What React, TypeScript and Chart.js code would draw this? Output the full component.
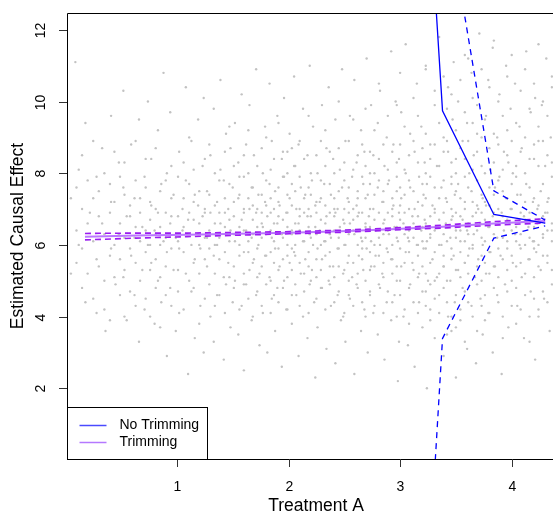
import React, { useEffect, useRef } from 'react';
import { Chart, registerables } from 'chart.js';

Chart.register(...registerables);

// Evaluation grid of treatment values
const gridA = [0.176, 0.634, 1.09, 1.55, 2.01, 2.47, 2.92, 3.38, 3.84, 4.3];
// No trimming: estimate and confidence band (values far off-scale on the left)
const noTrimEst = [210, 160, 120, 85, 62, 45, 32.5, 9.74, 6.85, 6.61];
const noTrimUpper = [420, 330, 250, 180, 130, 100, 85.7, 16.1, 7.51, 6.69];
const noTrimLower = [-150, -120, -90, -60, -45, -30, -20.7, 3.39, 6.19, 6.53];
// Trimming: estimate and confidence band
const trimEst = [6.23, 6.26, 6.28, 6.31, 6.34, 6.38, 6.44, 6.51, 6.6, 6.67];
const trimUpper = [6.32, 6.33, 6.33, 6.35, 6.37, 6.41, 6.47, 6.55, 6.65, 6.73];
const trimLower = [6.14, 6.19, 6.23, 6.27, 6.31, 6.35, 6.41, 6.47, 6.55, 6.61];

const xTicks = [1, 2, 3, 4];
const yTicks = [2, 4, 6, 8, 10, 12];
const xTitle = 'Treatment A';
const yTitle = 'Estimated Causal Effect';
const legendLabels = ['No Trimming', 'Trimming'];

// Observed (treatment, effect) sample cloud: scattered points
const cloud: [number, number][] = [
  [0.05,7.3],[0.05,5.2],[0.09,11.1],[0.12,6.0],[0.12,8.1],[0.18,4.4],[0.18,9.4],[0.22,6.9],
  [0.28,5.6],[0.28,7.9],[0.28,4.1],[0.33,6.6],[0.33,8.7],[0.36,3.6],[0.41,5.9],[0.41,7.2],[0.41,9.6],[0.45,4.9],[0.48,6.3],[0.48,8.3],
  [0.52,5.1],[0.52,7.6],[0.52,10.3],[0.55,3.9],[0.55,6.8],[0.59,5.7],[0.59,8.8],[0.62,4.6],[0.62,6.2],[0.62,7.3],[0.66,9.5],[0.66,3.3],[0.69,6.5],[0.69,5.3],[0.71,7.9],[0.71,4.2],[0.74,10.0],[0.74,6.0],
  [0.77,5.5],[0.77,7.1],[0.77,8.4],[0.8,3.8],[0.8,6.4],[0.83,9.2],[0.83,5.0],[0.83,6.9],[0.86,4.4],[0.86,7.7],[0.88,10.8],[0.88,6.1],[0.91,5.8],[0.91,8.0],[0.91,2.9],[0.94,6.6],[0.94,4.8],[0.94,9.7],[0.97,7.4],[0.97,5.3],[0.99,6.2],[0.99,3.6],
  [1.02,8.6],[1.02,5.9],[1.02,4.1],[1.05,7.0],[1.05,6.4],[1.08,10.4],[1.08,5.2],[1.08,7.8],[1.1,2.4],[1.1,6.7],[1.13,4.7],[1.13,8.9],[1.13,6.0],[1.16,7.4],[1.16,3.4],[1.16,5.6],[1.19,9.5],[1.19,6.3],[1.19,7.1],[1.21,4.3],[1.21,5.9],[1.23,8.2],[1.23,6.8],[1.24,3.0],[1.24,10.1],
  [1.27,5.4],[1.27,7.5],[1.27,6.2],[1.3,4.0],[1.3,8.5],[1.3,6.9],[1.33,9.8],[1.33,5.7],[1.33,3.3],[1.36,7.2],[1.36,6.0],[1.36,4.6],[1.39,8.1],[1.39,6.6],[1.39,10.6],[1.42,5.1],[1.42,7.8],[1.42,2.8],[1.44,6.3],[1.44,9.1],[1.44,4.9],[1.46,7.0],[1.46,5.5],[1.48,8.7],[1.48,3.7],[1.48,6.4],[1.5,7.6],[1.5,4.4],
  [1.52,6.1],[1.52,9.4],[1.52,5.0],[1.55,7.3],[1.55,3.5],[1.55,8.3],[1.58,6.7],[1.58,4.3],[1.58,10.2],[1.6,5.8],[1.6,7.9],[1.6,2.5],[1.62,6.4],[1.62,8.8],[1.62,4.9],[1.65,7.0],[1.65,5.3],[1.65,9.9],[1.67,6.2],[1.67,3.9],[1.67,7.6],[1.69,5.6],[1.69,8.5],[1.71,4.6],[1.71,6.9],[1.71,10.9],[1.73,6.0],[1.73,7.4],[1.74,3.2],[1.74,5.2],
  [1.77,8.0],[1.77,6.5],[1.77,4.1],[1.79,9.3],[1.79,5.7],[1.79,7.2],[1.81,3.0],[1.81,6.8],[1.83,10.5],[1.83,5.1],[1.83,7.7],[1.85,6.2],[1.85,4.5],[1.85,8.9],[1.88,5.9],[1.88,7.5],[1.88,3.6],[1.9,6.6],[1.9,9.6],[1.9,4.8],[1.92,7.1],[1.92,5.4],[1.94,8.4],[1.94,6.3],[1.94,2.6],[1.96,7.9],[1.96,5.0],[1.96,10.1],[1.98,6.9],[1.98,4.2],[1.99,6.0],[1.99,8.6],
  [2.01,5.5],[2.01,7.3],[2.01,9.1],[2.03,3.8],[2.03,6.4],[2.05,8.2],[2.05,5.8],[2.05,10.7],[2.07,4.6],[2.07,7.0],[2.09,6.6],[2.09,2.9],[2.09,8.8],[2.11,5.2],[2.11,7.6],[2.13,6.1],[2.13,9.8],[2.13,4.0],[2.15,7.4],[2.15,5.6],[2.17,3.4],[2.17,6.8],[2.17,8.5],[2.19,6.3],[2.19,4.9],[2.19,11.0],[2.21,7.8],[2.21,5.3],[2.22,6.0],[2.22,9.3],[2.23,4.4],[2.24,7.1],[2.24,2.3],[2.24,6.5],
  [2.26,5.9],[2.26,8.0],[2.26,3.7],[2.28,7.2],[2.28,6.4],[2.3,9.9],[2.3,4.8],[2.3,5.6],[2.32,7.7],[2.32,6.1],[2.34,3.1],[2.34,8.7],[2.34,6.8],[2.36,5.0],[2.36,10.4],[2.38,7.4],[2.38,4.3],[2.38,6.2],[2.4,8.4],[2.4,5.4],[2.42,6.9],[2.42,2.7],[2.42,9.5],[2.44,7.0],[2.44,4.6],[2.44,5.9],[2.46,8.1],[2.46,6.5],[2.47,3.9],[2.48,7.6],[2.48,10.9],[2.49,5.2],[2.49,6.7],[2.49,4.0],
  [2.51,8.9],[2.51,6.0],[2.51,3.3],[2.53,7.3],[2.53,5.5],[2.55,9.6],[2.55,6.6],[2.55,4.5],[2.57,7.9],[2.57,5.1],[2.59,6.3],[2.59,2.4],[2.59,10.6],[2.61,7.1],[2.61,4.9],[2.61,8.3],[2.63,5.7],[2.63,6.9],[2.65,3.6],[2.65,9.2],[2.65,6.2],[2.67,7.7],[2.67,5.3],[2.68,4.2],[2.68,8.6],[2.69,6.5],[2.7,11.2],[2.7,5.9],[2.71,7.4],[2.71,3.0],[2.72,6.8],[2.73,4.7],[2.73,8.0],[2.74,6.1],[2.74,9.9],[2.74,5.4],
  [2.76,7.0],[2.76,4.1],[2.76,8.5],[2.78,6.4],[2.78,5.7],[2.8,9.4],[2.8,3.5],[2.8,7.6],[2.82,6.0],[2.82,10.3],[2.82,4.8],[2.84,7.2],[2.84,5.2],[2.86,8.2],[2.86,6.7],[2.86,2.8],[2.88,5.9],[2.88,9.0],[2.88,4.4],[2.9,7.8],[2.9,6.3],[2.92,3.9],[2.92,11.4],[2.92,5.6],[2.94,7.1],[2.94,8.8],[2.95,6.5],[2.95,4.6],[2.96,10.0],[2.97,5.0],[2.97,7.5],[2.98,6.1],[2.98,2.2],[2.99,8.4],[2.99,6.9],[2.99,3.3],
  [3.01,5.4],[3.01,7.3],[3.01,9.7],[3.03,6.6],[3.03,4.0],[3.05,8.0],[3.05,5.8],[3.05,11.6],[3.07,6.2],[3.07,3.2],[3.09,7.6],[3.09,4.9],[3.09,9.1],[3.11,6.8],[3.11,5.5],[3.13,8.6],[3.13,2.6],[3.13,7.0],[3.15,6.0],[3.15,10.5],[3.17,4.4],[3.17,7.9],[3.17,5.2],[3.19,6.4],[3.19,9.3],[3.2,3.7],[3.21,7.4],[3.21,5.9],[3.22,8.3],[3.22,6.7],[3.23,4.7],[3.23,10.9],[3.24,6.1],[3.24,7.7],[3.24,2.0],[3.25,5.0],
  [3.27,8.8],[3.27,6.3],[3.27,4.2],[3.29,7.1],[3.29,5.6],[3.31,9.9],[3.31,3.4],[3.31,6.9],[3.33,5.1],[3.33,8.2],[3.35,6.5],[3.35,11.8],[3.35,4.6],[3.37,7.6],[3.37,6.0],[3.39,2.9],[3.39,9.0],[3.39,5.4],[3.41,7.3],[3.41,6.6],[3.43,4.0],[3.43,8.6],[3.43,10.4],[3.45,6.2],[3.45,5.0],[3.46,7.9],[3.46,3.6],[3.47,6.8],[3.47,9.5],[3.48,5.7],[3.48,11.1],[3.49,7.4],[3.49,4.4],[3.5,6.4],[3.5,8.4],[3.5,2.3],
  [3.52,5.3],[3.52,7.7],[3.52,10.0],[3.54,6.1],[3.54,3.9],[3.56,8.9],[3.56,6.7],[3.56,4.8],[3.58,7.2],[3.58,11.3],[3.58,5.5],[3.6,6.4],[3.6,9.4],[3.6,3.1],[3.62,8.0],[3.62,5.9],[3.64,7.5],[3.64,4.3],[3.64,10.8],[3.66,6.3],[3.66,8.5],[3.67,5.1],[3.68,6.9],[3.68,2.7],[3.69,9.1],[3.7,7.0],[3.7,5.6],[3.71,11.9],[3.72,6.6],[3.72,4.5],[3.73,8.2],[3.74,7.3],[3.74,3.5],[3.74,6.0],
  [3.77,9.6],[3.77,5.2],[3.77,7.1],[3.79,6.5],[3.79,10.6],[3.79,4.1],[3.81,8.1],[3.81,5.8],[3.83,6.8],[3.83,3.0],[3.83,11.5],[3.85,7.6],[3.85,5.4],[3.87,9.0],[3.87,6.2],[3.87,4.6],[3.89,7.9],[3.89,10.2],[3.9,5.7],[3.91,6.9],[3.91,2.4],[3.93,8.6],[3.93,6.4],[3.94,4.9],[3.95,7.3],[3.95,11.0],[3.96,5.9],[3.97,8.3],[3.97,3.7],[3.98,6.6],[3.99,9.8],[3.99,7.0],
  [4.01,5.5],[4.01,8.0],[4.03,6.3],[4.03,10.5],[4.05,4.3],[4.05,7.4],[4.07,9.3],[4.07,6.0],[4.09,5.1],[4.09,8.7],[4.11,6.8],[4.11,3.4],[4.13,7.7],[4.13,11.4],[4.15,5.6],[4.15,6.5],[4.17,9.7],[4.17,4.7],[4.19,7.2],[4.19,6.1],[4.2,8.4],[4.21,2.8],[4.21,10.1],[4.22,5.8],[4.23,7.0],[4.23,6.6],[4.24,4.0],[4.24,8.9],
  [4.26,5.3],[4.26,7.5],[4.27,9.9],[4.28,6.2],[4.29,4.5],[4.3,8.2],[4.3,6.9],[4.31,11.2],[4.32,5.7],[4.33,7.3],[4.34,3.6],[4.35,9.0],[4.36,6.4],[4.36,10.7],
];

// Observed sample cloud, dense columns: first entry is treatment A, the rest are effects
const cloudColumns: number[][] = [
  [0.1, 6.4,5.5,7.6],
  [0.15, 5.9,7.0,4.8,8.5],
  [0.2, 6.6,5.2,7.8],
  [0.25, 6.1,4.5,7.3,8.9],
  [0.3, 5.4,6.8,7.5],
  [0.35, 6.3,5.0,8.0,4.2],
  [0.4, 6.9,5.7,7.7,3.9],
  [0.44, 6.0,7.2,5.1,8.6],
  [0.49, 5.6,6.6,7.9,4.6],
  [0.53, 6.2,7.4,5.3,8.3,4.0],
  [0.58, 6.8,5.9,7.1,4.7],
  [0.63, 5.5,6.5,7.8,8.9,4.3],
  [0.67, 6.1,7.3,5.0,6.9],
  [0.72, 5.8,6.4,7.6,4.5,8.4],
  [0.76, 6.7,5.3,7.2,4.0,6.0],
  [0.81, 5.6,7.0,6.3,8.7,4.8],
  [0.85, 6.5,5.1,7.5,6.0,3.7],
  [0.9, 6.2,7.8,5.4,4.6,6.9],
  [0.95, 5.9,6.8,7.3,4.3,8.2],
  [1.01, 6.8,5.3,7.9,4.7,6.1],
  [1.06, 5.8,7.3,6.5,8.3,4.2],
  [1.11, 6.3,5.0,7.7,6.9,9.0],
  [1.15, 5.5,6.7,7.2,4.8,8.1],
  [1.2, 6.0,7.5,5.2,6.6,3.8],
  [1.25, 6.9,5.6,8.4,4.5,7.0,6.2],
  [1.29, 5.9,7.4,6.4,4.9,8.8],
  [1.34, 6.6,5.2,7.1,8.0,6.0,4.3],
  [1.38, 5.6,6.9,7.8,4.6,6.2],
  [1.43, 7.3,5.8,6.5,8.6,4.1,6.9],
  [1.47, 6.1,7.7,5.1,6.7,9.3],
  [1.51, 5.4,6.8,7.2,4.8,8.2,6.3],
  [1.56, 6.5,5.7,7.9,4.2,6.0,7.4],
  [1.6, 7.0,5.2,6.4,8.5,4.9,6.9],
  [1.64, 5.8,7.3,6.1,4.5,8.0,9.2],
  [1.68, 6.7,5.5,7.6,4.0,6.3,7.1],
  [1.72, 5.1,6.5,8.2,7.0,5.9,4.7],
  [1.76, 6.9,5.4,7.4,6.2,8.7,4.3,6.6],
  [1.8, 5.7,7.8,6.3,4.9,7.1,9.0],
  [1.84, 6.4,5.0,7.3,8.1,5.8,6.9,4.1],
  [1.87, 7.0,5.5,6.6,8.4,4.6,6.1],
  [1.91, 5.3,7.6,6.8,4.4,7.2,5.9,9.4],
  [1.95, 6.2,7.9,5.6,4.8,6.7,8.6],
  [1.99, 5.1,6.5,7.4,4.2,8.0,6.9,5.7],
  [2.03, 7.1,5.9,6.3,8.7,4.6,7.7,5.3],
  [2.06, 6.6,4.9,7.5,5.7,8.2,6.0],
  [2.1, 5.5,7.0,6.4,4.3,8.9,6.8,7.9],
  [2.14, 6.9,5.2,7.3,6.1,4.7,8.4],
  [2.18, 5.8,7.6,6.5,4.1,7.0,9.6,5.4],
  [2.2, 6.2,8.0,5.0,6.8,7.4],
  [2.25, 7.2,5.6,6.3,4.5,8.5,6.9,5.1],
  [2.29, 6.0,7.8,5.3,6.7,4.8,8.9,7.3],
  [2.33, 5.7,6.6,7.1,4.2,8.2,6.1,9.2],
  [2.37, 6.9,5.4,7.7,6.3,4.9,8.6,5.8],
  [2.41, 6.4,7.3,5.1,8.0,4.4,6.8,7.0],
  [2.45, 5.9,7.5,6.2,4.7,8.7,5.4,10.0],
  [2.5, 7.0,6.0,5.3,8.3,4.1,6.6,7.8],
  [2.54, 6.3,5.7,7.2,4.6,8.9,6.9,5.0,7.6],
  [2.58, 5.5,7.0,6.4,8.1,4.3,6.7,9.5],
  [2.62, 6.8,5.2,7.5,6.0,4.8,8.5,7.3],
  [2.66, 6.1,7.9,5.6,4.4,6.9,8.8,5.9],
  [2.69, 7.3,6.2,5.0,8.2,4.0,6.6,9.8],
  [2.73, 5.8,7.0,6.5,4.6,8.6,7.7,5.3],
  [2.77, 6.7,5.4,7.4,6.0,9.2,4.3,8.0],
  [2.81, 6.2,7.8,5.7,4.9,6.9,8.4,10.5],
  [2.85, 5.5,6.6,7.2,4.1,8.8,6.3,5.1,7.5],
  [2.89, 6.9,5.8,7.7,4.7,8.1,6.4,9.6],
  [2.93, 6.0,7.3,5.2,8.6,4.4,6.8,7.0,5.6],
  [2.97, 6.5,7.9,5.4,4.0,8.3,9.9,6.2],
  [3.0, 7.1,5.9,6.7,4.6,8.8,5.0,7.6,10.8],
  [3.04, 6.3,7.4,5.5,8.1,4.2,6.9,9.3],
  [3.08, 5.8,7.0,6.4,4.8,8.5,6.1,7.8,3.8],
  [3.12, 6.6,5.3,7.5,8.9,4.4,6.2,10.1],
  [3.16, 7.2,5.7,6.8,4.1,8.3,6.0,9.6,5.1],
  [3.2, 6.1,7.7,5.4,8.7,4.7,6.5,7.1],
  [3.23, 5.9,7.3,6.6,4.3,9.1,8.0,5.2,11.0],
  [3.27, 6.8,5.5,7.9,4.9,8.4,6.2,3.9],
  [3.31, 6.4,7.6,5.8,4.5,8.8,7.0,10.3,5.0],
  [3.35, 7.3,6.0,5.2,8.2,4.1,9.4,6.7],
  [3.39, 5.7,6.9,7.8,4.8,8.6,6.3,10.7,5.4],
  [3.42, 6.5,7.2,5.0,8.9,4.4,6.1,9.8,3.5],
  [3.46, 7.0,5.6,6.7,8.3,4.0,7.7,10.2,5.9],
  [3.5, 6.2,7.5,5.3,9.2,4.6,6.9,8.0,3.7],
  [3.54, 6.8,5.8,7.3,4.2,8.7,10.6,6.4,5.1],
  [3.58, 5.5,7.0,6.1,8.4,4.7,9.7,7.9,3.3],
  [3.61, 6.6,7.6,5.2,4.4,8.9,6.3,11.2,5.7],
  [3.65, 7.2,5.9,6.8,9.4,4.0,8.1,6.0,10.1],
  [3.69, 6.4,5.4,7.8,4.9,8.6,7.1,3.6,9.9],
  [3.73, 5.7,6.9,7.4,4.3,9.0,6.2,10.9,5.0],
  [3.76, 6.7,8.0,5.5,7.2,4.6,9.5,6.1,3.9],
  [3.8, 7.1,5.8,6.5,8.7,4.1,10.4,7.6,5.2],
  [3.84, 6.3,7.4,5.4,9.1,4.8,6.9,8.3,11.7],
  [3.88, 5.9,7.0,6.6,4.4,8.8,10.0,5.1,7.8],
  [3.92, 6.8,5.6,7.5,9.6,4.0,6.2,8.1,3.4],
  [3.96, 6.1,7.3,5.3,8.5,4.7,10.7,6.7,9.2],
  [4.0, 7.0,5.7,6.4,8.9,4.3,7.7,11.3,5.0],
  [4.04, 6.5,7.9,5.4,4.8,9.4,6.1,8.2,3.8],
  [4.08, 5.9,6.9,7.4,4.2,8.6,10.3,6.3,5.5],
  [4.12, 6.7,5.2,7.2,9.0,4.6,8.0,6.0,10.9],
  [4.16, 6.2,7.6,5.6,4.0,8.4,6.9,9.8,3.3],
  [4.2, 7.3,5.9,6.5,8.8,4.5,10.5,6.1,5.1],
  [4.24, 6.0,7.1,5.4,9.3,4.2,8.2,6.7,11.6],
  [4.28, 6.8,5.7,7.7,4.7,8.9,6.3,10.0],
  [4.32, 5.5,7.2,6.4,8.5,4.4,9.6,6.9],
  [4.36, 6.6,7.9,5.3,4.9,8.3,10.4,6.1],
];

const FONT = '"Liberation Sans", Arial, Helvetica, sans-serif';
const BLUE = '#0000ff';
const PURPLE_SOLID = '#bb77ff';
const PURPLE_DASH = '#9a1cf0';

const toXY = (ys: number[]) => gridA.map((a, i) => ({ x: a, y: ys[i] }));

const rAxesPlugin = {
  id: 'rAxes',
  afterDraw(chart: any) {
    const { ctx, chartArea: ca, scales } = chart;
    const xs = scales.x;
    const ys = scales.y;
    ctx.save();
    ctx.strokeStyle = '#000';
    ctx.lineWidth = 1;
    ctx.beginPath();
    ctx.moveTo(ca.right + 2, ca.top + 0.5);
    ctx.lineTo(ca.left + 0.5, ca.top + 0.5);
    ctx.lineTo(ca.left + 0.5, ca.bottom + 0.5);
    ctx.lineTo(ca.right + 2, ca.bottom + 0.5);
    ctx.stroke();
    ctx.strokeStyle = '#333';
    ctx.fillStyle = '#000';
    ctx.font = `14px ${FONT}`;
    ctx.textAlign = 'center';
    ctx.textBaseline = 'middle';
    xTicks.forEach((t) => {
      const px = Math.round(xs.getPixelForValue(t)) + 0.5;
      ctx.beginPath();
      ctx.moveTo(px, ca.bottom);
      ctx.lineTo(px, ca.bottom + 8);
      ctx.stroke();
      ctx.fillText(String(t), px, ca.bottom + 28);
    });
    yTicks.forEach((t) => {
      const py = Math.round(ys.getPixelForValue(t)) + 0.5;
      ctx.beginPath();
      ctx.moveTo(ca.left, py);
      ctx.lineTo(ca.left - 8, py);
      ctx.stroke();
      ctx.save();
      ctx.translate(ca.left - 26, py);
      ctx.rotate(-Math.PI / 2);
      ctx.fillText(String(t), 0, 0);
      ctx.restore();
    });
    ctx.font = `17.5px ${FONT}`;
    ctx.fillText(xTitle, 316, ca.bottom + 47);
    ctx.save();
    ctx.translate(18, (ca.top + ca.bottom) / 2);
    ctx.rotate(-Math.PI / 2);
    ctx.fillText(yTitle, 0, 0);
    ctx.restore();
    const lx = ca.left + 0.5;
    const lw = 140;
    const lh = 52;
    const ly = ca.bottom - lh + 0.5;
    ctx.fillStyle = '#fff';
    ctx.fillRect(lx, ly, lw, lh);
    ctx.strokeStyle = '#000';
    ctx.strokeRect(lx, ly, lw, lh);
    const cols = ['#4a4aff', '#b478ff'];
    ctx.font = `14px ${FONT}`;
    ctx.textAlign = 'left';
    legendLabels.forEach((lab, i) => {
      const yy = ly + 18 + i * 17;
      ctx.strokeStyle = cols[i];
      ctx.lineWidth = 1.5;
      ctx.beginPath();
      ctx.moveTo(lx + 12, yy);
      ctx.lineTo(lx + 39, yy);
      ctx.stroke();
      ctx.fillStyle = '#000';
      ctx.fillText(lab, lx + 52, yy);
    });
    ctx.restore();
  },
};

export default function App() {
  const ref = useRef<HTMLCanvasElement | null>(null);
  useEffect(() => {
    if (!ref.current) return;
    const lineDs = (label: string, ys: number[], color: string, dash: number[], width: number, order: number) => ({
      type: 'line' as const,
      label,
      data: toXY(ys),
      borderColor: color,
      borderWidth: width,
      borderDash: dash,
      pointRadius: 0,
      pointHoverRadius: 0,
      tension: 0,
      fill: false,
      order,
    });
    const dots = [
      ...cloud.map(([a, y]) => ({ x: a, y })),
      ...cloudColumns.flatMap(([a, ...vals]) => vals.map((y) => ({ x: a, y }))),
    ];
    const chart = new Chart(ref.current, {
      type: 'scatter',
      data: {
        datasets: [
          {
            type: 'scatter' as const,
            label: 'cloud',
            data: dots,
            backgroundColor: '#c2c2c2',
            borderWidth: 0,
            pointRadius: 1.2,
            pointHoverRadius: 0,
            order: 10,
          } as any,
          lineDs('trimUpper', trimUpper, PURPLE_DASH, [6, 4], 1.6, 3),
          lineDs('trimLower', trimLower, PURPLE_DASH, [6, 4], 1.6, 3),
          lineDs('Trimming', trimEst, PURPLE_SOLID, [], 2, 4),
          lineDs('noTrimUpper', noTrimUpper, BLUE, [6, 5], 1.3, 2),
          lineDs('noTrimLower', noTrimLower, BLUE, [6, 5], 1.3, 2),
          lineDs('No Trimming', noTrimEst, BLUE, [], 1.3, 2),
        ],
      },
      options: {
        animation: false,
        responsive: false,
        maintainAspectRatio: false,
        layout: { autoPadding: false, padding: { top: 13, right: 0, left: 0, bottom: 0 } },
        plugins: { legend: { display: false }, tooltip: { enabled: false } },
        scales: {
          x: {
            type: 'linear',
            min: 0.015,
            max: 4.37,
            grid: { display: false },
            border: { display: false },
            ticks: { display: false },
            afterFit: (s: any) => { s.height = 55; s.paddingLeft = 0; s.paddingRight = 0; },
          },
          y: {
            type: 'linear',
            min: 0.027,
            max: 12.47,
            grid: { display: false },
            border: { display: false },
            ticks: { display: false },
            afterFit: (s: any) => { s.width = 67; s.paddingTop = 0; s.paddingBottom = 0; },
          },
        },
      },
      plugins: [rAxesPlugin],
    });
    return () => chart.destroy();
  }, []);
  return (
    <div style={{ position: 'fixed', left: 0, top: 0, width: 553, height: 514, background: '#fff' }}>
      <canvas ref={ref} width={553} height={514} style={{ width: 553, height: 514, display: 'block' }} />
    </div>
  );
}
